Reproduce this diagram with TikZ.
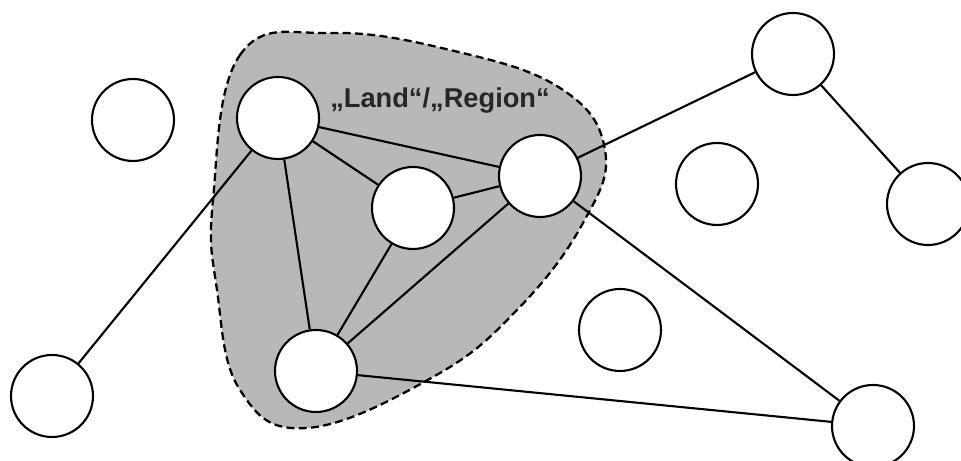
\documentclass[tikz,border=0pt]{standalone}
\usepackage{fontspec}
\setsansfont{Liberation Sans}
\usepackage{tikz}
\usetikzlibrary{arrows}
\usetikzlibrary{shapes}
\usetikzlibrary{backgrounds}

\begin{document}
\begin{tikzpicture}[line join=round,
  knot/.style={circle,draw,fill=white,line width=1.2pt,minimum size=1.64cm,inner sep=0pt},
  link/.style={line width=1.2pt},
  region/.style={fill=black!28,draw,line width=1.3pt,dash pattern=on 4.5pt off 2.5pt}]
\useasboundingbox (0,0) rectangle (19.22,9.22);
\filldraw[region] plot[smooth cycle,tension=.7] coordinates {(4.26,5.22) (4.80,8.12) (6.60,8.56) (9.00,8.22) (11.20,7.46) (12.10,6.22) (11.66,4.76) (10.34,3.02) (8.66,1.68) (6.14,.66) (4.80,1.42) (4.34,3.42)};
\path (8.80,7.20) node[text=black!85,font=\sffamily\bfseries\fontsize{15.5}{18}\selectfont] (lbl) {„Land“/„Region“};
\node[knot] (a) at (2.66,6.82) {};
\node[knot] (b) at (5.56,6.86) {};
\node[knot] (c) at (8.26,5.06) {};
\node[knot] (d) at (10.80,5.70) {};
\node[knot] (e) at (6.32,1.80) {};
\node[knot] (f) at (1.04,1.30) {};
\node[knot] (g) at (15.86,8.14) {};
\node[knot] (h) at (18.56,5.14) {};
\node[knot] (i) at (14.34,5.54) {};
\node[knot] (j) at (12.40,2.62) {};
\node[knot] (k) at (17.46,.70) {};
\draw[link] (b)--(f) (b)--(e) (b)--(c) (b)--(d);
\draw[link] (c)--(d) (c)--(e) (d)--(e);
\draw[link] (d)--(g) (g)--(h) (d)--(k) (e)--(k);
\end{tikzpicture}
\end{document}
